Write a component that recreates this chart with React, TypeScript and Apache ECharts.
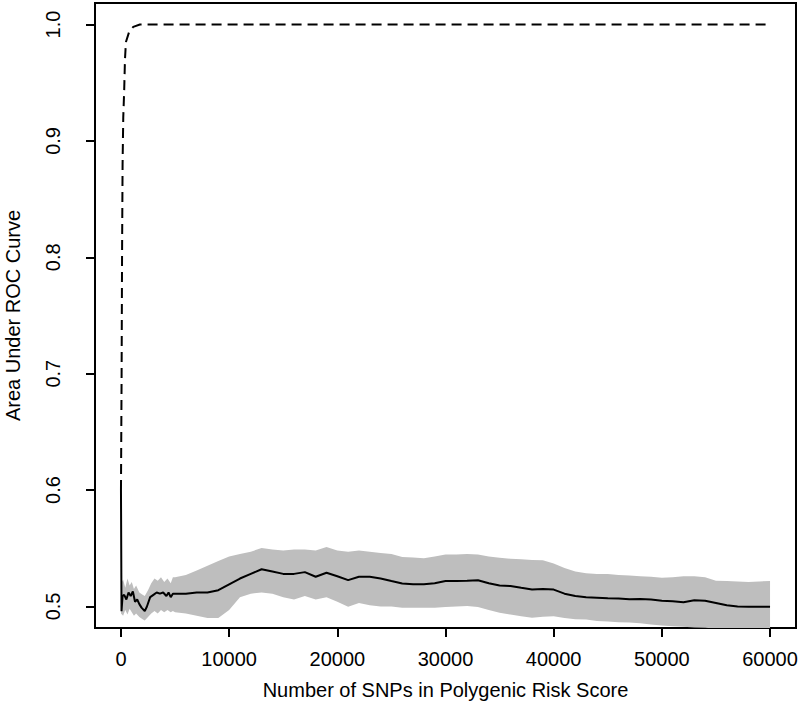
import React, { useEffect, useRef } from "react";
import * as echarts from "echarts";

// ---- data ----
const xTicks = [0, 10000, 20000, 30000, 40000, 50000, 60000];
const yTicks = [0.5, 0.6, 0.7, 0.8, 0.9, 1.0];

// dashed curve (training AUC)
const dashX = [1, 60, 100, 150, 212, 300, 370, 460, 765, 1135, 1750, 60000];
const dashY = [0.6, 0.7, 0.8, 0.88, 0.92, 0.944, 0.97, 0.985, 0.994, 0.998, 1.0, 1.0];

// solid curve (mean AUC)
const lineX = [
  1, 50, 150, 300, 500, 700, 900, 1100, 1300, 1500, 1700, 1900, 2200, 2400, 2700,
  3000, 3300, 3600, 3900, 4200, 4400, 4600, 4800, 5000, 6000, 7000, 8000, 9000,
  10000, 11000, 12000, 13000, 14000, 15000, 16000, 17000, 18000, 19000, 20000,
  21000, 22000, 23000, 24000, 25000, 26000, 27000, 28000, 29000, 30000, 31000,
  32000, 33000, 34000, 35000, 36000, 37000, 38000, 39000, 40000, 41000, 42000,
  43000, 44000, 45000, 46000, 47000, 48000, 49000, 50000, 51000, 52000, 53000,
  54000, 55000, 56000, 57000, 58000, 59000, 60000,
];
const lineY = [
  0.6, 0.496, 0.509, 0.51, 0.506, 0.512, 0.509, 0.513, 0.504, 0.506, 0.502, 0.499,
  0.496, 0.5, 0.508, 0.51, 0.512, 0.511, 0.512, 0.509, 0.512, 0.508, 0.511, 0.511,
  0.511, 0.512, 0.512, 0.514, 0.519, 0.524, 0.528, 0.532, 0.53, 0.528, 0.528,
  0.5295, 0.5255, 0.529, 0.526, 0.5226, 0.5255, 0.5255, 0.524, 0.5218, 0.5198,
  0.519, 0.519, 0.52, 0.5218, 0.5218, 0.522, 0.5226, 0.52, 0.518, 0.5175, 0.516,
  0.5146, 0.515, 0.5145, 0.511, 0.509, 0.508, 0.5075, 0.507, 0.5068, 0.5063,
  0.5065, 0.506, 0.505, 0.5045, 0.5037, 0.5054, 0.505, 0.503, 0.501, 0.5, 0.4997,
  0.4997, 0.4997,
];

// grey band
const bandX = [
  0, 200, 400, 600, 800, 1000, 1200, 1400, 1700, 2000, 2200, 2500, 2800, 3100,
  3400, 3700, 4000, 4300, 4600, 4800, 5000, 6000, 7000, 8000, 9000, 10000, 11000,
  12000, 13000, 14000, 15000, 16000, 17000, 18000, 19000, 20000, 21000, 22000,
  23000, 24000, 25000, 26000, 27000, 28000, 29000, 30000, 31000, 32000, 33000,
  34000, 35000, 36000, 37000, 38000, 39000, 40000, 41000, 42000, 43000, 44000,
  45000, 46000, 47000, 48000, 49000, 50000, 51000, 52000, 53000, 54000, 55000,
  56000, 57000, 58000, 59000, 60000,
];
const bandUpper = [
  0.52, 0.523, 0.516, 0.524, 0.518, 0.521, 0.515, 0.518, 0.512, 0.51, 0.509, 0.514,
  0.52, 0.524, 0.522, 0.525, 0.521, 0.524, 0.52, 0.525, 0.525, 0.527, 0.531, 0.535,
  0.539, 0.543, 0.545, 0.547, 0.5503, 0.549, 0.548, 0.549, 0.549, 0.548, 0.551,
  0.548, 0.547, 0.548, 0.547, 0.546, 0.545, 0.5424, 0.542, 0.5415, 0.543, 0.5447,
  0.5447, 0.545, 0.5447, 0.543, 0.5418, 0.541, 0.5405, 0.54, 0.5398, 0.537, 0.533,
  0.53, 0.5285, 0.528, 0.528, 0.527, 0.5266, 0.526, 0.5255, 0.5246, 0.525, 0.526,
  0.526, 0.525, 0.522, 0.5218, 0.5215, 0.521, 0.5215, 0.5218,
];
const bandLower = [
  0.494, 0.492, 0.497, 0.493, 0.498, 0.495, 0.492, 0.494, 0.491, 0.489, 0.488,
  0.491, 0.494, 0.496, 0.494, 0.497, 0.495, 0.497, 0.495, 0.496, 0.495, 0.494,
  0.492, 0.49, 0.49, 0.497, 0.508, 0.511, 0.512, 0.511, 0.508, 0.506, 0.509, 0.506,
  0.508, 0.504, 0.4997, 0.503, 0.501, 0.5, 0.5, 0.499, 0.4989, 0.4989, 0.499,
  0.4995, 0.5, 0.5003, 0.4995, 0.497, 0.4946, 0.493, 0.4915, 0.4903, 0.4912,
  0.4917, 0.49, 0.489, 0.4888, 0.4875, 0.487, 0.4865, 0.4862, 0.4855, 0.4845,
  0.4837, 0.483, 0.4825, 0.482, 0.4817, 0.481, 0.48, 0.4795, 0.479, 0.4785, 0.478,
];

const xTitle = "Number of SNPs in Polygenic Risk Score";
const yTitle = "Area Under ROC Curve";

const FONT = "'Liberation Sans', Arial, Helvetica, sans-serif";

export default function App() {
  const ref = useRef<HTMLDivElement>(null);

  useEffect(() => {
    if (!ref.current) return;
    const chart = echarts.init(ref.current, undefined, { renderer: "svg" });

    const bandData = bandX.map((x, i) => [x, bandLower[i], bandUpper[i]]);

    const option: any = {
      animation: false,
      backgroundColor: "#fff",
      textStyle: { fontFamily: FONT },
      grid: {
        left: 95,
        top: 3,
        width: 701,
        height: 625,
        show: true,
        borderColor: "#000",
        borderWidth: 2,
        backgroundColor: "transparent",
        containLabel: false,
        outerBoundsMode: "none",
      },
      xAxis: {
        type: "value",
        min: -2400,
        max: 62400,
        splitLine: { show: false },
        axisLine: { show: false, onZero: false },
        axisTick: {
          show: true,
          length: 9,
          inside: false,
          customValues: xTicks,
          lineStyle: { color: "#000", width: 2 },
        },
        axisLabel: {
          show: true,
          customValues: xTicks,
          margin: 21,
          color: "#000",
          fontSize: 20,
          fontFamily: FONT,
          formatter: (v: number) => String(v),
        },
        name: xTitle,
        nameLocation: "middle",
        nameGap: 52,
        nameTextStyle: { color: "#000", fontSize: 20, fontFamily: FONT, verticalAlign: "top" },
      },
      yAxis: {
        type: "value",
        min: 0.4815,
        max: 1.0185,
        splitLine: { show: false },
        axisLine: { show: false, onZero: false },
        axisTick: {
          show: true,
          length: 9,
          inside: false,
          customValues: yTicks,
          lineStyle: { color: "#000", width: 2 },
        },
        axisLabel: {
          show: true,
          customValues: yTicks,
          rotate: 90,
          margin: 32,
          color: "#000",
          fontSize: 20,
          fontFamily: FONT,
          formatter: (v: number) => v.toFixed(1),
        },
        name: yTitle,
        nameLocation: "middle",
        nameGap: 72,
        nameRotate: 90,
        nameTextStyle: { color: "#000", fontSize: 20, fontFamily: FONT },
      },
      series: [
        {
          type: "custom",
          name: "band",
          clip: true,
          data: bandData,
          encode: { x: 0, y: [1, 2] },
          z: 1,
          renderItem: (params: any, api: any) => {
            if (params.dataIndex !== 0) return null;
            const top = bandData.map((d) => api.coord([d[0], d[2]]));
            const bottom = bandData
              .slice()
              .reverse()
              .map((d) => api.coord([d[0], d[1]]));
            return {
              type: "polygon",
              shape: { points: top.concat(bottom) },
              style: { fill: "#bebebe", stroke: "none" },
            };
          },
        },
        {
          type: "line",
          name: "mean",
          data: lineX.map((x, i) => [x, lineY[i]]),
          showSymbol: false,
          symbol: "none",
          z: 3,
          lineStyle: { color: "#000", width: 2 },
        },
        {
          type: "line",
          name: "train",
          data: dashX.map((x, i) => [x, dashY[i]]),
          showSymbol: false,
          symbol: "none",
          z: 3,
          lineStyle: { color: "#000", width: 2, type: [10, 6] },
        },
      ],
    };

    chart.setOption(option);
    return () => chart.dispose();
  }, []);

  return (
    <div
      ref={ref}
      style={{ position: "fixed", left: 0, top: 0, width: 800, height: 727, background: "#fff" }}
    />
  );
}
